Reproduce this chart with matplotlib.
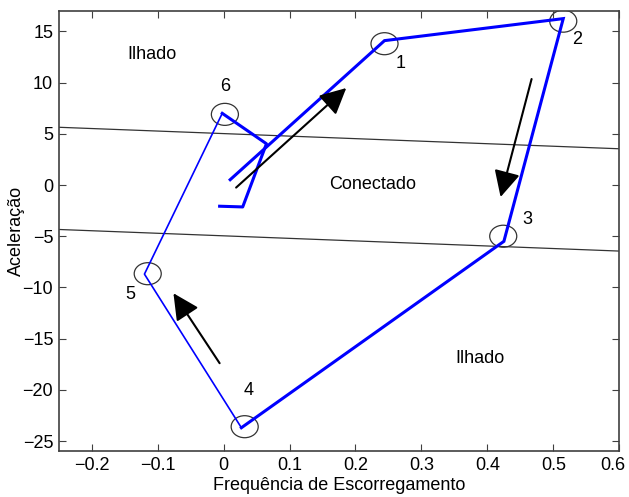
import numpy as np
import matplotlib.pyplot as plt
import matplotlib.transforms as mtransforms
from matplotlib.patches import Ellipse

plt.rcParams['font.family'] = ['Liberation Sans', 'DejaVu Sans']

# trajectory (thick part: start -> 1 -> 2 -> 3 -> 4)
path_a_x = [0.010, 0.244, 0.515, 0.425, 0.414, 0.027]
path_a_y = [0.52, 14.1, 16.25, -5.5, -6.0, -23.7]
# thin part: 4 -> 5 -> 6
path_b_x = [0.027, -0.120, -0.002]
path_b_y = [-23.7, -8.7, 7.0]
# thick end: 6 -> back into region
path_c_x = [-0.002, 0.065, 0.029, -0.006]
path_c_y = [7.0, 4.03, -2.14, -2.07]

# boundary lines
upper_x = [-0.25, 0.6]
upper_y = [5.64, 3.54]
lower_x = [-0.25, 0.6]
lower_y = [-4.34, -6.45]

# marked points (circle centres) and labels
pt_x = [0.244, 0.515, 0.424, 0.032, -0.115, 0.002]
pt_y = [13.8, 16.0, -5.0, -23.6, -8.66, 6.9]
lbl = ['1', '2', '3', '4', '5', '6']
lbl_x = [0.268, 0.536, 0.46, 0.038, -0.142, 0.003]
lbl_y = [11.9, 14.2, -3.4, -20.1, -10.66, 9.6]

# direction arrows (tail, tip)
arrows = [((0.019, -0.25), (0.186, 9.47)),
          ((0.467, 10.35), (0.420, -1.17)),
          ((-0.006, -17.4), (-0.076, -10.57))]

fig = plt.figure(figsize=(6.29, 4.97), dpi=100)
ax = fig.add_axes([0.0933, 0.092, 0.8913, 0.886])

ax.plot(upper_x, upper_y, color='#333333', lw=0.9)
ax.plot(lower_x, lower_y, color='#333333', lw=0.9)

ax.plot(path_a_x, path_a_y, color='#0000ff', lw=2.2, solid_joinstyle='miter')
ax.plot(path_b_x, path_b_y, color='#0000ff', lw=1.2)
ax.plot(path_c_x, path_c_y, color='#0000ff', lw=2.2)

for x, y in zip(pt_x, pt_y):
    ax.add_patch(Ellipse((x, y), 0.041, 2.15, fill=False, ec='#333333', lw=0.9))

for t, x, y in zip(lbl, lbl_x, lbl_y):
    ax.text(x, y, t, fontsize=13, ha='center', va='center')

for tail, tip in arrows:
    ax.annotate('', xy=tip, xytext=tail,
                arrowprops=dict(arrowstyle='-|>,head_length=0.8,head_width=0.4',
                                mutation_scale=20, color='k', lw=1.5,
                                shrinkA=0, shrinkB=0))

ax.text(-0.108, 12.7, 'Ilhado', fontsize=13, ha='center', va='center')
ax.text(0.226, 0.04, 'Conectado', fontsize=13, ha='center', va='center')
ax.text(0.389, -16.9, 'Ilhado', fontsize=13, ha='center', va='center')

ax.set_xlim(-0.25, 0.6)
ax.set_ylim(-26, 17)
ax.set_xticks(np.arange(-0.2, 0.61, 0.1))
ax.set_xticklabels(['\u22120.2', '\u22120.1', '0', '0.1', '0.2', '0.3', '0.4', '0.5', '0.6'])
ax.set_yticks([-25, -20, -15, -10, -5, 0, 5, 10, 15])
ax.set_yticklabels(['\u221225', '\u221220', '\u221215', '\u221210', '\u22125', '0', '5', '10', '15'])
ax.tick_params(direction='in', top=True, right=True, length=5, labelsize=13,
               color='#404040', pad=4)
for s in ax.spines.values():
    s.set_color('#404040')
    s.set_linewidth(1.2)

# keep the last x tick label inside the figure
last = ax.get_xticklabels()[-1]
last.set_transform(last.get_transform() +
                   mtransforms.ScaledTranslation(-7 / 100, 0, fig.dpi_scale_trans))

ax.set_xlabel('Frequência de Escorregamento', fontsize=13)
ax.set_ylabel('Aceleração', fontsize=13)
ax.xaxis.set_label_coords(0.5, -0.058)
ax.yaxis.set_label_coords(-0.06, 0.5)

fig.savefig('out.png', dpi=100)
